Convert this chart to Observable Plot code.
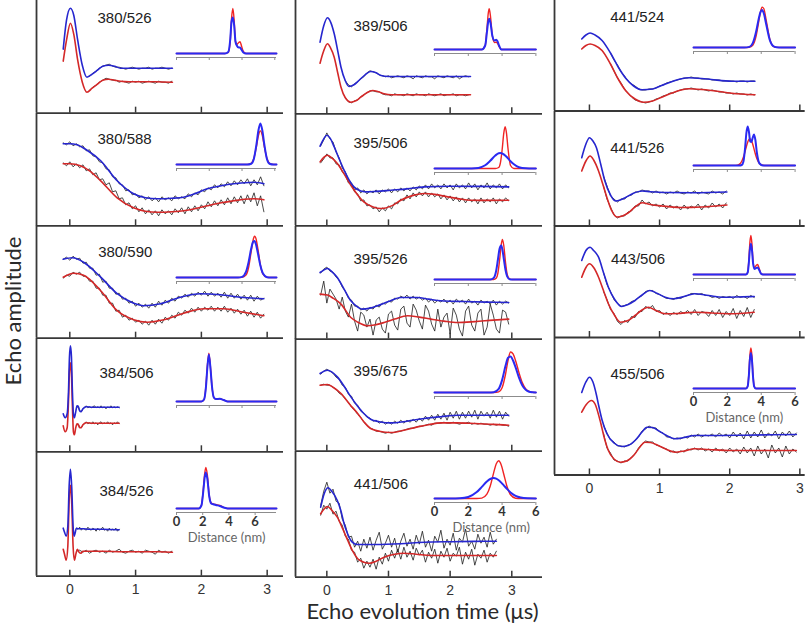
<!DOCTYPE html>
<html><head><meta charset="utf-8">
<script src="https://cdn.jsdelivr.net/npm/d3@7"></script>
<script src="https://cdn.jsdelivr.net/npm/@observablehq/plot@0.6"></script>
<style>
body{margin:0;background:#fff;}
#chart{position:relative;width:805px;height:627px;overflow:hidden;background:#fff;}
.ttl{position:absolute;font-family:Lato,'Open Sans',sans-serif;color:#2a2a2a;text-align:center;white-space:nowrap;}
</style></head><body><div id="chart"></div>
<script>
// ---------- labels ----------
const panelLabels = ["380/526","380/588","380/590","384/506","384/526","389/506","395/506","395/526","395/675","441/506","441/524","441/526","443/506","455/506"];
const timeTicks = [0, 1, 2, 3];
const distTicksA = [0, 2.5, 5, 7.5];
const distTicksLabeled = [0, 2, 4, 6];

// ---------- fits: [time (µs), echo amplitude (a.u.)] ----------
const A1_blueFit = [[-0.10,64],[-0.05,93],[0.01,105],[0.06,98],[0.12,73],[0.19,48],[0.26,36],[0.34,39],[0.42,43],[0.50,47],[0.59,48],[0.68,47],[0.77,45],[0.9,45],[1.1,45],[1.3,45],[1.56,45]];
const A1_redFit = [[-0.10,52],[-0.05,73],[0.01,90],[0.06,79],[0.12,53],[0.19,31],[0.26,21],[0.34,25],[0.42,29],[0.50,33],[0.59,34],[0.68,33],[0.77,32],[0.9,31.5],[1.1,31.5],[1.3,31.5],[1.56,31]];
const A2_blueFit = [[-0.10,82],[0.0,82],[0.11,81],[0.25,76],[0.47,65],[0.72,45],[0.97,32],[1.15,28],[1.33,27],[1.55,27.5],[1.73,28.5],[1.9,32],[2.09,37],[2.3,40],[2.49,42],[2.65,43],[2.80,43.5],[2.95,42]];
const A2_redFit = [[-0.10,62],[0.0,62],[0.16,60],[0.30,55],[0.47,45],[0.72,28],[0.97,18],[1.15,14.5],[1.33,13.5],[1.55,14],[1.73,15],[1.9,17],[2.09,20],[2.3,23],[2.49,25],[2.65,26.5],[2.80,27],[2.95,26]];
const A3_blueFit = [[-0.10,79],[0.04,80.5],[0.21,76],[0.47,61],[0.72,44.5],[0.97,35],[1.12,32.5],[1.38,34.5],[1.68,41],[1.99,44.5],[2.29,43.5],[2.59,41],[2.95,39.5]];
const A3_redFit = [[-0.10,61],[0.06,65],[0.21,63],[0.47,47.5],[0.72,27.5],[0.97,18.5],[1.18,16],[1.43,18.5],[1.73,25],[2.04,29.5],[2.34,29.5],[2.64,26],[2.95,22.5]];
const A4_blueFit = [[-0.10,38],[-0.07,34],[-0.04,38],[-0.02,60],[-0.005,95],[0.01,106],[0.025,95],[0.04,60],[0.055,38],[0.07,34],[0.09,40],[0.11,46],[0.13,45],[0.15,41],[0.17,40],[0.20,43],[0.25,45],[0.35,44.5],[0.5,44.5],[0.75,44.5]];
const A4_redFit = [[-0.10,26],[-0.07,20],[-0.04,24],[-0.02,50],[-0.005,80],[0.01,89],[0.025,78],[0.04,45],[0.055,20],[0.07,17],[0.09,24],[0.11,28],[0.13,27],[0.15,24],[0.17,24],[0.20,27],[0.25,29],[0.35,28.5],[0.5,28.5],[0.75,28.5]];
const A5_blueFit = [[-0.10,48],[-0.08,44],[-0.055,40],[-0.03,50],[-0.01,90],[0.01,107],[0.03,88],[0.05,50],[0.065,40],[0.08,43],[0.1,48],[0.13,47.5],[0.2,47.5],[0.3,47],[0.5,47],[0.75,46.5]];
const A5_redFit = [[-0.10,27],[-0.08,22],[-0.055,16],[-0.03,30],[-0.01,75],[0.01,91],[0.03,72],[0.05,30],[0.07,16],[0.095,23],[0.115,27],[0.14,24],[0.17,23],[0.2,25],[0.3,25],[0.5,25],[0.8,24.5],[1.1,24.5],[1.35,24.5],[1.56,24]];
const B1_blueFit = [[-0.11,71.6],[-0.05,88],[0.01,96],[0.06,92],[0.12,80],[0.18,62],[0.23,46.6],[0.30,33],[0.36,27.3],[0.44,29],[0.52,33.3],[0.62,39],[0.71,42.3],[0.80,41],[0.88,38.3],[1.0,37.3],[1.3,37.3],[1.8,37.3],[2.33,37.3]];
const B1_redFit = [[-0.11,50.6],[-0.05,63],[0.01,70],[0.06,66],[0.12,56.6],[0.18,40],[0.23,26.6],[0.30,16],[0.39,11.6],[0.47,13],[0.55,16.6],[0.65,21],[0.74,23.3],[0.84,22],[0.93,20],[1.05,19],[1.3,19],[1.8,19],[2.33,19]];
const B2_blueFit = [[-0.11,79.7],[-0.05,87],[0.0,90.7],[0.05,88],[0.12,79],[0.2,67],[0.28,55.7],[0.36,46],[0.44,39],[0.55,35],[0.66,34],[0.8,34.5],[1.04,35.7],[1.3,37],[1.58,39],[2.0,39.7],[2.5,39.5],[2.95,39]];
const B2_redFit = [[-0.11,64],[-0.05,68.5],[0.01,70.7],[0.08,68],[0.17,62.4],[0.28,52],[0.39,40.7],[0.5,31],[0.6,24],[0.75,19],[0.88,17.4],[1.05,20],[1.2,25.7],[1.4,30.5],[1.58,32.4],[1.75,31.5],[1.96,29],[2.15,27],[2.33,25.7],[2.6,25.5],[2.95,25.7]];
const B3_blueFit = [[-0.11,66.6],[-0.05,69],[0.01,70.6],[0.08,67.5],[0.17,61.6],[0.28,50],[0.39,38.3],[0.48,33],[0.58,30],[0.7,31],[0.82,33.3],[1.0,37.5],[1.2,41.6],[1.47,41.6],[1.65,40],[1.85,38.3],[2.2,37.6],[2.6,37],[2.95,36.6]];
const B3_redFit = [[-0.11,45],[0.01,44],[0.1,41],[0.23,35],[0.39,21.6],[0.5,17],[0.66,13.3],[0.8,14.5],[0.93,16.6],[1.1,20],[1.31,23.3],[1.5,22],[1.69,20],[1.9,18],[2.12,16.6],[2.4,17.5],[2.7,19],[2.95,20]];
const B4_blueFit = [[-0.11,77.7],[0.01,81],[0.17,74.3],[0.28,65],[0.39,54.3],[0.5,45],[0.6,37.7],[0.71,32],[0.85,29.5],[1.04,28.3],[1.3,30],[1.58,32.7],[1.85,34.5],[2.12,36],[2.5,36],[2.95,36]];
const B4_redFit = [[-0.11,66],[0.01,66.7],[0.1,64],[0.23,57.7],[0.37,47],[0.5,37.7],[0.6,29.5],[0.71,22.7],[0.85,20],[1.04,18.7],[1.25,21],[1.47,24.3],[1.65,26.5],[1.85,28.3],[2.1,28.3],[2.39,27.7],[2.7,26.8],[2.95,26]];
const B5_blueFit = [[-0.10,70],[-0.04,84],[0.02,89.4],[0.08,86],[0.17,76.7],[0.23,66],[0.28,53.4],[0.34,43],[0.39,36.7],[0.45,33.5],[0.5,32.7],[0.8,32.7],[1.2,33.5],[1.58,35],[2.0,35.5],[2.4,35.8],[2.75,36]];
const B5_redFit = [[-0.10,63.4],[-0.04,68.5],[0.01,70.7],[0.08,67],[0.17,60],[0.26,48],[0.34,36.7],[0.42,26],[0.5,18.4],[0.6,15],[0.69,14],[0.8,16],[0.93,20],[1.1,23],[1.25,24],[1.45,23],[1.69,21.7],[2.2,21.7],[2.75,21.7]];
const C1_blueFit = [[-0.11,72],[-0.05,76],[0.01,78],[0.08,76],[0.18,70.5],[0.3,58],[0.41,44],[0.52,32.5],[0.63,25],[0.75,21.2],[0.9,22],[1.03,25.5],[1.2,30],[1.41,33.2],[1.6,32.5],[1.74,31.5],[2.03,29.8],[2.36,29.8]];
const C1_redFit = [[-0.11,62],[-0.05,65.5],[0.01,67],[0.08,65.5],[0.18,60.5],[0.3,47],[0.41,32],[0.52,20],[0.65,12],[0.77,8.8],[0.9,10],[1.03,13.8],[1.2,18.5],[1.41,22.2],[1.6,21.5],[1.74,20.5],[2.03,17.8],[2.36,16.2]];
const C2_blueFit = [[-0.11,68.3],[-0.05,82],[0.0,88.3],[0.05,85],[0.1,78.3],[0.16,62],[0.22,45],[0.3,31],[0.37,25],[0.44,26],[0.51,28.3],[0.62,32.5],[0.75,35],[0.87,34.3],[1.1,33.5],[1.5,33.3],[1.96,34]];
const C2_redFit = [[-0.11,55],[-0.05,65],[0.01,70],[0.06,66],[0.13,55],[0.19,42],[0.25,28.3],[0.32,15],[0.39,9],[0.47,10],[0.55,13],[0.65,19],[0.75,23.3],[0.87,21.5],[1.03,20],[1.3,18.5],[1.6,19],[1.96,21]];
const C3_blueFit = [[-0.11,77],[-0.05,87],[0.01,90.3],[0.06,87],[0.13,80.3],[0.2,65],[0.27,50.3],[0.36,38],[0.46,31],[0.55,33],[0.65,37],[0.76,43],[0.86,47],[0.97,44],[1.08,40.3],[1.2,38.7],[1.35,41],[1.5,43.7],[1.7,42],[1.9,40.3],[2.1,40.5],[2.35,41]];
const C3_redFit = [[-0.11,60.3],[-0.05,70],[0.0,73.7],[0.06,70],[0.13,60.3],[0.2,47],[0.27,33.7],[0.36,22],[0.44,15.3],[0.55,17],[0.65,22],[0.75,27.5],[0.84,30.3],[0.95,27],[1.08,23.7],[1.25,24],[1.5,25.3],[1.75,24.5],[2.0,23.7],[2.35,25.3]];
const C4_blueFit = [[-0.11,82.5],[-0.05,93],[0.0,97.8],[0.05,93],[0.1,80],[0.13,70],[0.18,55],[0.25,41.2],[0.35,32],[0.46,28.5],[0.55,29.5],[0.65,34.5],[0.75,43],[0.82,47.8],[0.9,47.5],[0.98,44.5],[1.1,39.5],[1.22,36.2],[1.35,37.5],[1.5,39.5],[1.8,39.5],[2.2,39.8],[2.6,40.2],[2.95,40.5]];
const C4_redFit = [[-0.11,62.8],[-0.05,70],[0.03,74.5],[0.08,71],[0.15,55],[0.22,35],[0.27,24.5],[0.35,16],[0.44,12.8],[0.53,14],[0.63,19.5],[0.72,28],[0.79,32.8],[0.87,32.5],[0.98,29.5],[1.1,25.5],[1.22,22.8],[1.35,24],[1.5,26.2],[1.7,25.5],[2.0,24.5],[2.5,24.5],[2.95,24.5]];

// ---------- experimental traces: [start time, step] and amplitudes ----------
const A1_blueGrid = [0.30, 0.05], A1_redGrid = [0.30, 0.05];
const A1_blueData = [37,40,42,45,47,48,49,47,46,46,45,44,45,46,45,44,45,45,46,44,45,45,46,45,44,45];
const A1_redData = [23,26,28,31,33,35,34,33,33,31,32,31,30,32,31,32,30,31,32,31,30,32,31,31,30,32];
const A2_blueGrid = [-0.10, 0.05], A2_redGrid = [-0.10, 0.05];
const A2_blueData = [83,81,84,80,82,79,80,75,76,70,69,64,63,57,56,49,48,42,41,35,36,31,32,28,30,26,29,25,28,24,29,26,28,25,30,27,29,27,32,29,33,31,36,34,38,36,41,38,42,39,44,40,45,41,46,42,47,40,46,41,49,40];
const A2_redData = [63,60,64,59,62,58,61,55,57,51,53,46,47,41,43,34,35,27,28,21,23,17,20,14,18,12,16,11,15,10,16,12,15,11,17,13,18,12,19,14,20,15,21,17,24,19,25,20,26,21,28,22,29,23,30,22,31,24,33,20,30,14];
const A3_blueGrid = [-0.10, 0.05], A3_redGrid = [-0.10, 0.05];
const A3_blueData = [79,81,78,82,79,80,75,76,70,70,63,64,56,57,50,50,44,45,39,40,35,37,32,35,31,34,30,35,31,37,33,38,35,40,37,42,40,44,41,45,42,46,43,47,42,46,42,45,41,46,40,45,40,44,39,43,38,43,37,42,38,40];
const A3_redData = [60,63,62,66,64,66,62,62,57,57,50,50,43,43,35,35,27,28,21,23,18,20,16,18,14,17,13,18,14,19,15,21,18,23,20,26,23,28,25,30,26,31,27,31,28,32,27,31,27,32,26,30,25,29,24,28,22,27,21,26,20,24];
const A4_blueGrid = [0.10, 0.025], A4_redGrid = [0.10, 0.025];
const A4_blueData = [43,46,41,40,43,44,46,44,45,44,45,46,44,45,44,46,44,45,43,45,44,46,44,45,44,45,44];
const A4_redData = [26,28,25,24,27,28,30,28,29,28,30,28,29,27,29,30,28,29,28,30,28,29,27,29,28,30,28];
const A5_blueGrid = [0.10, 0.025], A5_redGrid = [0.10, 0.05];
const A5_blueData = [48,47,49,46,48,47,46,49,47,46,48,47,45,48,46,47,49,46,47,45,48,46,47,46,48,45,47];
const A5_redData = [25,26,24,26,23,25,26,24,25,23,26,24,25,27,24,23,25,26,24,25,23,26,25,24,22,26,24,25,23,25];
const B1_blueGrid = [0.30, 0.05], B1_redGrid = [0.30, 0.05];
const B1_blueData = [33,29,27,30,32,35,37,41,43,42,41,39,38,37,38,36,37,38,37,36,38,37,35,38,37,36,38,37,37,35,38,37,36,38,37,36,38,35,37,38,37];
const B1_redData = [16,12,11,13,14,17,19,21,23,23,22,22,20,19,19,18,20,19,19,18,20,19,18,20,19,19,18,20,19,18,19,20,18,19,19,20,18,19,19,18,19];
const B2_blueGrid = [-0.10, 0.05], B2_redGrid = [-0.10, 0.05];
const B2_blueData = [80,86,93,87,84,74,68,58,54,46,43,36,38,33,36,32,35,33,36,32,36,34,37,33,37,34,38,35,38,35,39,36,40,37,41,37,42,38,41,37,42,38,41,36,42,38,41,37,43,38,42,36,41,38,43,37,41,38,42,37,41,38];
const B2_redData = [63,67,72,68,68,62,61,54,51,43,42,34,32,25,26,20,21,17,19,14,18,15,20,17,23,22,27,25,31,27,33,29,34,30,34,29,33,29,32,27,31,26,30,25,29,24,28,23,28,24,27,22,28,23,27,24,28,22,27,24,28,25];
const B3_blueGrid = [-0.10, 0.05], B3_redGrid = [-0.10, 0.05];
const B3_blueData = [66,70,72,68,67,62,59,52,48,41,39,33,33,29,31,28,32,30,34,32,36,35,38,37,41,40,43,41,44,40,43,40,42,39,41,37,40,36,39,37,40,36,39,35,40,37,39,35,40,36,38,34,39,36,38,35,39,34,38,35,38,36];
const B3_redData = [44,58,36,50,45,40,30,42,28,22,35,18,8,27,24,12,20,4,19,22,10,6,25,28,14,9,30,33,16,12,35,29,18,10,34,28,15,8,30,12,22,26,5,31,24,10,3,28,33,14,8,26,30,4,12,35,24,10,6,29,27,15];
const B4_blueGrid = [-0.10, 0.05], B4_redGrid = [-0.10, 0.05];
const B4_blueData = [77,80,82,80,78,74,72,66,64,57,55,48,46,40,38,34,33,30,31,28,30,27,29,27,30,28,31,28,31,29,32,29,33,30,35,31,36,31,37,32,38,31,39,33,40,32,39,33,40,34,41,32,40,35,39,33,41,34,40,32,39,35];
const B4_redData = [66,67,66,66,64,62,58,56,52,49,44,41,37,34,29,26,23,22,20,20,19,18,19,18,19,20,20,21,22,23,23,24,25,25,26,27,26,28,28,28,29,28,28,29,28,27,28,28,29,27,28,27,28,27,27,26,27,26,27,26,26,25];
const B5_blueGrid = [-0.10, 0.05], B5_redGrid = [-0.10, 0.05];
const B5_blueData = [72,86,95,84,88,76,74,58,52,40,41,30,36,26,38,29,40,27,37,45,28,34,42,30,39,25,36,44,31,38,28,42,33,46,30,37,26,41,35,47,29,38,32,44,27,39,35,48,31,36,28,43,34,40,30,45,33,38];
const B5_redData = [62,72,68,74,63,66,56,52,41,38,27,25,15,19,9,16,10,18,8,20,13,24,16,27,19,28,18,30,20,26,17,29,22,27,15,25,19,28,14,26,20,29,16,24,21,30,13,25,18,28,12,23,19,27,15,24,20,26];
const C1_blueGrid = [0.30, 0.05], C1_redGrid = [0.30, 0.05];
const C1_blueData = [58,51,46,39,35,30,27,25,22,21,21,22,22,23,25,26,28,29,30,31,32,33,33,34,33,33,32,32,32,31,31,31,30,30,30,30,29,30,30,29,30,30];
const C1_redData = [47,40,33,28,22,18,14,11,10,9,8,9,10,12,13,15,16,18,18,20,21,22,22,23,22,21,22,21,20,21,20,19,19,18,18,17,18,17,17,16,17,16];
const C2_blueGrid = [0.20, 0.05], C2_redGrid = [0.20, 0.05];
const C2_blueData = [50,40,30,27,24,27,27,30,31,34,34,36,35,35,33,35,33,34,32,34,33,35,33,32,34,33,35,32,34,33,32,35,33,34,32,35];
const C2_redData = [40,27,19,11,8,10,10,14,15,20,20,26,22,24,20,22,19,22,17,21,18,20,16,21,17,20,18,22,16,21,18,23,19,22,18,23];
const C3_blueGrid = [0.20, 0.05], C3_redGrid = [0.20, 0.05];
const C3_blueData = [65,53,46,38,34,31,32,33,36,37,40,42,46,47,47,44,43,41,39,39,38,40,39,41,42,44,44,43,44,42,42,40,41,39,41,40,41,39,42,40,41,39,42,40];
const C3_redData = [46,38,28,24,16,13,17,15,21,20,26,26,31,29,32,26,27,23,25,22,25,23,26,24,27,23,28,22,26,25,21,27,22,28,20,26,22,29,19,27,21,30,20,28];
const C4_blueGrid = [0.20, 0.05], C4_redGrid = [0.20, 0.05];
const C4_blueData = [50,42,35,33,29,29,28,30,31,35,38,44,46,49,47,47,43,42,38,38,36,37,36,38,37,40,38,41,38,40,39,41,38,42,39,41,37,43,38,42,36,44,37,43,38,45,37,42,39,44,36,43,39,44,38,42];
const C4_redData = [42,27,22,15,14,12,14,14,18,21,27,31,34,33,33,30,29,27,26,23,24,22,24,23,26,25,27,25,27,24,26,23,27,24,26,22,27,23,26,21,28,22,27,19,29,21,26,17,30,22,27,18,29,21,26,23];

// ---------- distance distributions: r (nm), P(r) ----------
const A1_r = [0,3.7,3.95,4.1,4.2,4.3,4.4,4.5,4.6,4.75,4.85,4.95,5.1,5.3,7.63];
const A1_pRed = [0,0,1,12,35,45,33,12,9,11,11.7,8,2,0,0];
const A1_pBlue = [0,0,1.5,14,32,36,28,12,8,6,6,4,1,0,0];
const A2_r = [0,5.4,5.7,5.9,6.1,6.25,6.4,6.55,6.7,6.9,7.1,7.4,7.63];
const A2_pRed = [0,0,1.2,6,18,28.8,33.6,28.8,18,6,1.2,0,0];
const A2_pBlue = [0,0,0.8,5.5,20,34,41,34,20,5.5,0.8,0,0];
const A3_r = [0,4.7,5.0,5.3,5.5,5.7,5.85,5.95,6.05,6.2,6.4,6.6,6.9,7.2,7.63];
const A3_pRed = [0,0,0.1,2.4,10,26,37.7,41.2,39.6,29.5,12.7,3.3,0.2,0,0];
const A3_pBlue = [0,0,0.6,5.6,15.4,28.9,35.7,36.4,33.7,25,11.9,3.9,0.3,0,0];
const A4_r = [0,1.9,2.1,2.25,2.35,2.47,2.6,2.7,2.85,3.0,3.3,3.6,3.9,7.63];
const A4_pRed = [0,0,2,16,35,48.3,33,16,4,2.5,2.7,1.5,0,0];
const A4_pBlue = [0,0,2,15,33,47,32,16,4,2.5,2.7,1.5,0,0];
const A5_r = [0,1.7,1.9,2.05,2.15,2.24,2.35,2.5,2.65,2.8,3.0,3.3,3.6,3.9,7.63];
const A5_pRed = [0,0,3,20,35,41,34,13,5.5,4.5,4,3,1.2,0,0];
const A5_pBlue = [0,0,3,18,31,36,30,12,5,4.2,3.5,2.5,1,0,0];
const B1_r = [0,2.8,3.0,3.1,3.18,3.24,3.32,3.42,3.55,3.65,3.72,3.82,3.95,6];
const B1_pRed = [0,0,4,20,36,40.7,32,14,7,7.3,6.5,3,0,0];
const B1_pBlue = [0,0,4,17,28,30.7,26,14,9,9.7,8.5,4,0,0];
const B2_r = [0,1.8,2.2,2.6,3.0,3.3,3.6,3.8,3.9,4.0,4.1,4.18,4.26,4.35,4.5,4.7,5.0,5.4,5.8,6];
const B2_pRed = [0,0,0,0,0,0,0,1,5.6,18.2,35.4,41.7,35.4,20,3,0,0,0,0,0];
const B2_pBlue = [0,0,0.05,0.55,3.2,7.7,13,15.2,15.4,15,14.1,13,11.7,10.1,7.3,4.2,1.3,0.2,0,0];
const B3_r = [0,3.3,3.5,3.65,3.75,3.85,3.95,4.02,4.1,4.2,4.3,4.45,4.6,6];
const B3_pRed = [0,0,0,1.2,6.2,19,35,40,34,17.5,5.4,0.4,0,0];
const B3_pBlue = [0,0,1.4,8.8,19.5,30.7,34,29.8,20.8,9.7,3.2,0.3,0,0];
const B4_r = [0,3.2,3.5,3.8,4.0,4.2,4.35,4.5,4.65,4.8,5.0,5.2,5.4,5.6,5.8,6];
const B4_pRed = [0,0,0,0.6,4.7,18,32,40.5,38.5,31.8,19.8,9.6,3.6,1.1,0.3,0];
const B4_pBlue = [0,0,0.3,3.7,12.4,26.4,34.7,35.9,32,25.1,14.9,7,2.7,0.8,0.2,0];
const B5_r = [0,0.5,1.0,1.5,2.0,2.5,2.8,3.1,3.3,3.5,3.65,3.8,3.95,4.1,4.3,4.5,4.8,5.1,5.5,6];
const B5_pRed = [0,0,0,0,0,0,0.4,4.3,12.5,25.6,34.5,37.7,33.5,24.3,11.4,3.7,0.3,0,0,0];
const B5_pBlue = [0,0,0,0.2,1.5,6.4,11.6,17,19.5,20.4,19.8,18.2,15.9,13.1,9.4,6.1,2.7,1,0.2,0];
const C1_r = [0,3.0,3.3,3.5,3.7,3.85,3.95,4.05,4.15,4.3,4.5,4.7,4.9,5.2,6];
const C1_pRed = [0,0,0.2,2.2,11.6,25.7,35.1,40.4,39,26.7,8.8,1.4,0.1,0,0];
const C1_pBlue = [0,0,0.6,4.3,15.9,28.6,35.2,37.4,34.2,22.7,7.8,1.5,0.2,0,0];
const C2_r = [0,2.5,2.7,2.85,2.95,3.05,3.12,3.2,3.28,3.35,3.42,3.5,3.57,3.65,3.75,3.9,4.1,4.3,6];
const C2_pRed = [0,0.1,1.1,4.2,8.4,14.3,18.8,23.3,26.2,26.6,25,21.2,16.8,11.8,6.5,2,0.2,0,0];
const C2_pBlue = [0,0,0,0.5,4,18,32,39,33,24,23.5,28,31,26,12,2,0,0,0];
const C3_r = [0,3.1,3.2,3.27,3.33,3.39,3.45,3.52,3.6,3.7,3.79,3.88,3.98,4.1,6];
const C3_pRed = [0,0,2,15,32,39,31,13,7,9,10,6,1,0,0];
const C3_pBlue = [0,0,2,12,25,30.7,25,11,5.5,6.5,7,4.5,1,0,0];
const C4_r = [0,3.1,3.2,3.27,3.33,3.39,3.45,3.51,3.58,3.68,6];
const C4_pRed = [0,0,2.5,15,33,40.6,33,15,2.5,0,0];
const C4_pBlue = [0,0,2.2,13,29,35.6,29,13,2.2,0,0];

// ---------- table built from the arrays ----------
const S = {
  A1:{label:panelLabels[0], blueFit:A1_blueFit, redFit:A1_redFit, blueGrid:A1_blueGrid, redGrid:A1_redGrid, blueData:A1_blueData, redData:A1_redData, r:A1_r, pRed:A1_pRed, pBlue:A1_pBlue},
  A2:{label:panelLabels[1], blueFit:A2_blueFit, redFit:A2_redFit, blueGrid:A2_blueGrid, redGrid:A2_redGrid, blueData:A2_blueData, redData:A2_redData, r:A2_r, pRed:A2_pRed, pBlue:A2_pBlue},
  A3:{label:panelLabels[2], blueFit:A3_blueFit, redFit:A3_redFit, blueGrid:A3_blueGrid, redGrid:A3_redGrid, blueData:A3_blueData, redData:A3_redData, r:A3_r, pRed:A3_pRed, pBlue:A3_pBlue},
  A4:{label:panelLabels[3], blueFit:A4_blueFit, redFit:A4_redFit, blueGrid:A4_blueGrid, redGrid:A4_redGrid, blueData:A4_blueData, redData:A4_redData, r:A4_r, pRed:A4_pRed, pBlue:A4_pBlue},
  A5:{label:panelLabels[4], blueFit:A5_blueFit, redFit:A5_redFit, blueGrid:A5_blueGrid, redGrid:A5_redGrid, blueData:A5_blueData, redData:A5_redData, r:A5_r, pRed:A5_pRed, pBlue:A5_pBlue},
  B1:{label:panelLabels[5], blueFit:B1_blueFit, redFit:B1_redFit, blueGrid:B1_blueGrid, redGrid:B1_redGrid, blueData:B1_blueData, redData:B1_redData, r:B1_r, pRed:B1_pRed, pBlue:B1_pBlue},
  B2:{label:panelLabels[6], blueFit:B2_blueFit, redFit:B2_redFit, blueGrid:B2_blueGrid, redGrid:B2_redGrid, blueData:B2_blueData, redData:B2_redData, r:B2_r, pRed:B2_pRed, pBlue:B2_pBlue},
  B3:{label:panelLabels[7], blueFit:B3_blueFit, redFit:B3_redFit, blueGrid:B3_blueGrid, redGrid:B3_redGrid, blueData:B3_blueData, redData:B3_redData, r:B3_r, pRed:B3_pRed, pBlue:B3_pBlue},
  B4:{label:panelLabels[8], blueFit:B4_blueFit, redFit:B4_redFit, blueGrid:B4_blueGrid, redGrid:B4_redGrid, blueData:B4_blueData, redData:B4_redData, r:B4_r, pRed:B4_pRed, pBlue:B4_pBlue},
  B5:{label:panelLabels[9], blueFit:B5_blueFit, redFit:B5_redFit, blueGrid:B5_blueGrid, redGrid:B5_redGrid, blueData:B5_blueData, redData:B5_redData, r:B5_r, pRed:B5_pRed, pBlue:B5_pBlue},
  C1:{label:panelLabels[10], blueFit:C1_blueFit, redFit:C1_redFit, blueGrid:C1_blueGrid, redGrid:C1_redGrid, blueData:C1_blueData, redData:C1_redData, r:C1_r, pRed:C1_pRed, pBlue:C1_pBlue},
  C2:{label:panelLabels[11], blueFit:C2_blueFit, redFit:C2_redFit, blueGrid:C2_blueGrid, redGrid:C2_redGrid, blueData:C2_blueData, redData:C2_redData, r:C2_r, pRed:C2_pRed, pBlue:C2_pBlue},
  C3:{label:panelLabels[12], blueFit:C3_blueFit, redFit:C3_redFit, blueGrid:C3_blueGrid, redGrid:C3_redGrid, blueData:C3_blueData, redData:C3_redData, r:C3_r, pRed:C3_pRed, pBlue:C3_pBlue},
  C4:{label:panelLabels[13], blueFit:C4_blueFit, redFit:C4_redFit, blueGrid:C4_blueGrid, redGrid:C4_redGrid, blueData:C4_blueData, redData:C4_redData, r:C4_r, pRed:C4_pRed, pBlue:C4_pBlue}
};

// ---------- layout ----------
const BLUE = "#2626cf", RED = "#d42828", DATA = "#1c1c1c", AXIS = "#383838";
const IBLUE = "#2a2af2", IRED = "#f02424", IAXIS = "#8c8c8c";
const columns = [
  {left: 36, right: 283, t0: -0.506, t1: 3.248},
  {left: 294.7, right: 541.7, t0: -0.508, t1: 3.498},
  {left: 554.3, right: 805, t0: -0.498, t1: 3.076}
];
const insetCols = [
  {x0: 176, width: 100, rmax: 7.63, ticks: distTicksA, labelDx: 0},
  {x0: 434.3, width: 101.4, rmax: 6, ticks: distTicksLabeled, labelDx: 6},
  {x0: 692.7, width: 101.6, rmax: 6, ticks: distTicksLabeled, labelDx: 0}
];
const layout = [
  {key:"A1", col:0, top:0, bottom:112.7, dx:61, dy:11.6, base:53},
  {key:"A2", col:0, top:112.7, bottom:225, dx:61, dy:19.6, base:164},
  {key:"A3", col:0, top:225, bottom:337.7, dx:61.7, dy:21.3, base:277},
  {key:"A4", col:0, top:337.7, bottom:451, dx:63, dy:28.9, base:401},
  {key:"A5", col:0, top:451, bottom:575.7, dx:63, dy:34.3, base:508, last:true},
  {key:"B1", col:1, top:0, bottom:113.3, dx:58, dy:20.3, base:49},
  {key:"B2", col:1, top:113.3, bottom:225.7, dx:58, dy:24, base:168},
  {key:"B3", col:1, top:225.7, bottom:338.3, dx:58, dy:26.6, base:279},
  {key:"B4", col:1, top:338.3, bottom:451, dx:58, dy:27.3, base:392},
  {key:"B5", col:1, top:451, bottom:576.7, dx:58.3, dy:26.9, base:498, last:true},
  {key:"C1", col:2, top:0, bottom:110.5, dx:55.7, dy:11.3, base:47},
  {key:"C2", col:2, top:110.5, bottom:225, dx:55.7, dy:30.8, base:165},
  {key:"C3", col:2, top:225, bottom:337, dx:56.4, dy:27.9, base:274},
  {key:"C4", col:2, top:337, bottom:474.5, dx:56, dy:30.9, base:388, last:true}
];

const chart = document.getElementById("chart");
const place = (el, left, top) => { el.style.position = "absolute"; el.style.left = left + "px"; el.style.top = top + "px"; chart.append(el); };
const baseStyle = "background: transparent; overflow: visible; font-family: 'Liberation Sans', Arial, sans-serif; font-size: 14px;";

function mainPanel(p) {
  const c = columns[p.col], s = S[p.key];
  const H = p.bottom - p.top, W = c.right - c.left;
  const mb = p.last ? 30 : 0;
  const grid = (g, vals) => vals.map((v, i) => ({t: g[0] + i * g[1], a: v}));
  const pairs = arr => arr.map(([t, a]) => ({t, a}));
  const marks = [
    Plot.line(grid(s.redGrid, s.redData), {x: "t", y: "a", stroke: DATA, strokeWidth: 0.8}),
    Plot.line(grid(s.blueGrid, s.blueData), {x: "t", y: "a", stroke: DATA, strokeWidth: 0.8}),
    Plot.line(pairs(s.redFit), {x: "t", y: "a", stroke: RED, strokeWidth: 1.6, curve: "monotone-x"}),
    Plot.line(pairs(s.blueFit), {x: "t", y: "a", stroke: BLUE, strokeWidth: 1.6, curve: "monotone-x"}),
    Plot.ruleY([0], {stroke: AXIS, strokeWidth: 1.8}),
    Plot.ruleX([c.t0], {stroke: AXIS, strokeWidth: 1.8}),
    Plot.ruleX(timeTicks, {y1: 0, y2: 6, stroke: AXIS, strokeWidth: 1.5}),
    Plot.text([s.label], {text: d => d, frameAnchor: "top-left", textAnchor: "start", lineAnchor: "top", dx: p.dx, dy: p.dy, fontSize: 15, fill: "#222"})
  ];
  if (p.last) marks.push(Plot.axisX(timeTicks, {tickSize: 0, tickPadding: 8, fontSize: 14, fill: "#333", label: null, tickFormat: d => String(d)}));
  const svg = Plot.plot({
    width: W, height: H + mb,
    marginLeft: 0, marginRight: 0, marginTop: 0, marginBottom: mb,
    x: p.last ? {domain: [c.t0, c.t1], label: null} : {domain: [c.t0, c.t1], axis: null, label: null},
    y: {domain: [0, H], axis: null, label: null},
    style: baseStyle,
    marks
  });
  place(svg, c.left, p.top);
}

function insetPanel(p) {
  const c = insetCols[p.col], s = S[p.key];
  const hmax = 50, pad = 4;
  const mb = p.last ? 36 : 6;
  const yDomain = [-pad, hmax];
  const red = s.r.map((r, i) => ({r, p: s.pRed[i]}));
  const blue = s.r.map((r, i) => ({r, p: s.pBlue[i]}));
  const ticks = p.last ? distTicksLabeled : c.ticks;
  const marks = [
    Plot.ruleY([yDomain[0]], {stroke: IAXIS, strokeWidth: 1.2}),
    Plot.axisX(ticks, {tickSize: 3, tickPadding: 1, stroke: IAXIS, fill: "#333", fontSize: 13, fontWeight: "bold", fontFamily: "Lato, sans-serif", label: null, tickFormat: p.last ? (d => String(d)) : (() => "")}),
    Plot.line(red, {x: "r", y: "p", stroke: IRED, strokeWidth: 1.4, curve: "monotone-x"}),
    Plot.line(blue, {x: "r", y: "p", stroke: IBLUE, strokeWidth: 2, curve: "monotone-x"})
  ];
  if (p.last) marks.push(Plot.text(["Distance (nm)"], {text: d => d, frameAnchor: "bottom", dx: c.labelDx, dy: 25, lineAnchor: "middle", fontSize: 13, fill: "#666", fontFamily: "Lato, sans-serif"}));
  const svg = Plot.plot({
    width: c.width, height: hmax + pad + mb,
    marginLeft: 0, marginRight: 0, marginTop: 0, marginBottom: mb,
    x: {domain: [0, c.rmax], label: null},
    y: {domain: yDomain, axis: null, label: null},
    style: baseStyle,
    marks
  });
  place(svg, c.x0, p.base - hmax);
}

layout.forEach(mainPanel);
layout.forEach(insetPanel);

const yTitle = document.createElement("div");
yTitle.className = "ttl";
yTitle.textContent = "Echo amplitude";
Object.assign(yTitle.style, {left: "-87px", top: "299px", width: "200px", fontSize: "22px", lineHeight: "24px", transform: "rotate(-90deg)"});
chart.append(yTitle);

const xTitle = document.createElement("div");
xTitle.className = "ttl";
xTitle.textContent = "Echo evolution time (\u03bcs)";
Object.assign(xTitle.style, {left: "222.5px", top: "599px", width: "400px", fontSize: "22px", lineHeight: "24px"});
chart.append(xTitle);
</script></body></html>
